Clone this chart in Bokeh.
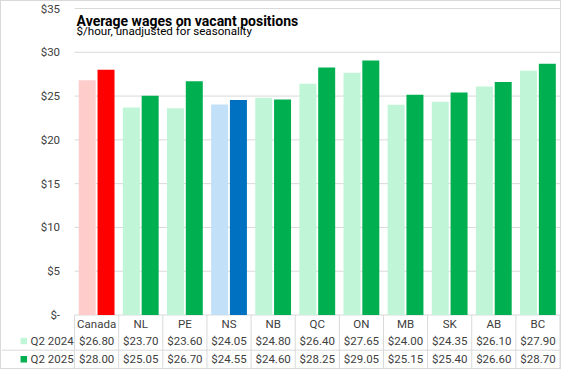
import numpy as np
from bokeh.plotting import figure
from bokeh.layouts import column
from bokeh.models import ColumnDataSource, Range1d, Label
from bokeh.core.properties import value
from bokeh.embed import file_html
from bokeh.resources import INLINE

# ---------------- data ----------------
categories = ["Canada", "NL", "PE", "NS", "NB", "QC", "ON", "MB", "SK", "AB", "BC"]
q2_2024 = [26.80, 23.70, 23.60, 24.05, 24.80, 26.40, 27.65, 24.00, 24.35, 26.10, 27.90]
q2_2025 = [28.00, 25.05, 26.70, 24.55, 24.60, 28.25, 29.05, 25.15, 25.40, 26.60, 28.70]
series_names = ["Q2 2024", "Q2 2025"]
y_ticks = [0, 5, 10, 15, 20, 25, 30, 35]
y_tick_labels = ["$-", "$5", "$10", "$15", "$20", "$25", "$30", "$35"]
title_text = "Average wages on vacant positions"
subtitle_text = "$/hour, unadjusted for seasonality"

# ---------------- style / layout (pixels inside the figure) ----------------
LIGHT_GREEN, DARK_GREEN = "#C1F5D8", "#00B050"
highlight = {"Canada": ("#FFCCCC", "#FF0000"), "NS": ("#C2E1F8", "#0070C0")}
series_colors = [LIGHT_GREEN, DARK_GREEN]
GRID = "#D9D9D9"
TXT = "#404040"
FONT = "Roboto"

W, H = 559, 367
LEFT, RIGHT = 73, 1        # plot-area edges
TOP_PX = 7.0               # pixel row of the top ($35) gridline
ZERO_PX = 313.5            # pixel row of the $0 line
CAT_ROW = (313.5, 330.5)
ROW_2024 = (330.5, 348.7)
ROW_2025 = (348.7, 367.0)
TICK_LABEL_RIGHT = 58.5
KEY_X, KEY_TEXT_X = 22.3, 29.0
BAR_W = 0.385
OFFSET = 0.213

n = len(categories)
idx = np.arange(n)
ppu_x = (W - LEFT - RIGHT) / n
ymax_tick = float(y_ticks[-1])
ppu_y = (ZERO_PX - TOP_PX) / ymax_tick


def fy(px):
    """pixel row inside the figure -> data y"""
    return ymax_tick - (px - TOP_PX) / ppu_y


def fx(px):
    """pixel column inside the figure -> data x"""
    return -0.5 + (px - LEFT) / ppu_x


x_start, x_end = fx(0), fx(W - RIGHT + 0.5)
y_start, y_end = fy(H), fy(0)
plot_x0, plot_x1 = -0.5, n - 0.5

light_colors = [highlight.get(c, series_colors)[0] for c in categories]
dark_colors = [highlight.get(c, series_colors)[1] for c in categories]

src = ColumnDataSource(dict(
    x=idx, cat=categories, a=q2_2024, b=q2_2025,
    xa=idx - OFFSET, xb=idx + OFFSET,
    ca=light_colors, cb=dark_colors,
    la=[f"${v:.2f}" for v in q2_2024], lb=[f"${v:.2f}" for v in q2_2025],
))
tick_src = ColumnDataSource(dict(y=y_ticks, label=y_tick_labels))

p = figure(width=W, height=H, x_range=Range1d(x_start, x_end),
           y_range=Range1d(y_start, y_end), output_backend="svg",
           toolbar_location=None, x_axis_location=None, y_axis_location=None,
           min_border=0)
p.outline_line_color = None
p.grid.visible = False

# value gridlines (start at the plot-area edge) and their labels
p.segment(x0=plot_x0, y0="y", x1=plot_x1, y1="y", source=tick_src,
          line_color=GRID, line_width=1)
p.text(x=fx(TICK_LABEL_RIGHT), y="y", text="label", source=tick_src,
       text_align="right", text_baseline="middle", text_font=value(FONT),
       text_font_size="11.5px", text_color=TXT)

# bars
p.vbar(x="xa", top="a", width=BAR_W, fill_color="ca", line_color=None, source=src)
p.vbar(x="xb", top="b", width=BAR_W, fill_color="cb", line_color=None, source=src)

# data table grid
bounds = np.arange(n + 1) - 0.5
p.segment(x0=bounds, y0=y_start, x1=bounds, y1=0, line_color=GRID, line_width=1)
p.segment(x0=[x_start], y0=[fy(ROW_2025[0])], x1=[plot_x1], y1=[fy(ROW_2025[0])],
          line_color=GRID, line_width=1)

# data table texts
text_kw = dict(text_align="center", text_baseline="middle",
               text_font=value(FONT), text_color=TXT, text_font_size="11.5px")
p.text(x="x", y=fy(sum(CAT_ROW) / 2), text="cat", source=src, **text_kw)
p.text(x="x", y=fy(sum(ROW_2024) / 2), text="la", source=src, **text_kw)
p.text(x="x", y=fy(sum(ROW_2025) / 2), text="lb", source=src, **text_kw)

# legend keys of the data table
row_y = [fy(sum(ROW_2024) / 2), fy(sum(ROW_2025) / 2)]
p.scatter(x=[fx(KEY_X)] * 2, y=row_y, marker="square", size=6.5,
          fill_color=series_colors, line_color=None)
p.text(x=[fx(KEY_TEXT_X)] * 2, y=row_y, text=series_names, text_align="left",
       text_baseline="middle", text_font=value(FONT), text_font_size="11.5px",
       text_color=TXT)

# title and subtitle
x_title = fx(LEFT + 2)
p.add_layout(Label(x=x_title, y=fy(19.5), text=title_text, text_font=FONT,
                   text_font_style="bold", text_font_size="14px",
                   text_color="#000000", text_baseline="alphabetic"))
p.add_layout(Label(x=x_title, y=fy(29.8), text=subtitle_text, text_font=FONT,
                   text_font_size="11.6px", text_color="#000000",
                   text_baseline="alphabetic"))

layout = column(p, styles={"border": "1px solid #D9D9D9"})
open("out.html", "w").write(file_html(layout, INLINE))
